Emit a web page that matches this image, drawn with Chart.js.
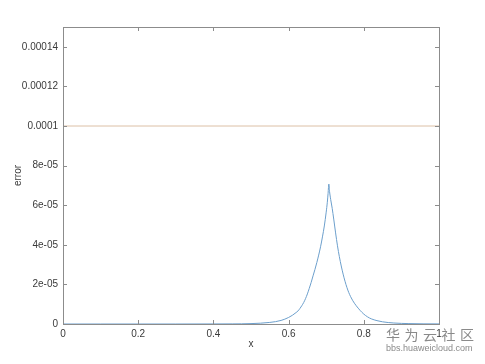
<!DOCTYPE html>
<html>
<head>
<meta charset="utf-8">
<script src="https://cdn.jsdelivr.net/npm/chart.js@4"></script>
<style>
  html, body { margin: 0; padding: 0; background: #fff; }
  #wrap { position: relative; width: 485px; height: 364px; }
  #mark { position: absolute; left: 386px; top: 326px; color: #8a8a8a; font-family: "Noto Sans CJK SC", sans-serif; }
  #mark .cn { font-size: 14px; letter-spacing: 4.5px; line-height: 17px; }
  #mark .url { font-size: 9px; line-height: 11px; font-family: "Liberation Sans", sans-serif; }
</style>
</head>
<body>
<div id="wrap">
  <canvas id="chart" width="485" height="364"></canvas>
  <div id="mark"><div class="cn">华为云社区</div><div class="url">bbs.huaweicloud.com</div></div>
</div>
<script>
// error curve
const xValues = [0, 0.1, 0.2, 0.3, 0.4, 0.45, 0.5, 0.55, 0.58, 0.6, 0.61, 0.62, 0.625, 0.63, 0.635, 0.64, 0.645, 0.65, 0.655, 0.66, 0.665,
  0.67, 0.675, 0.68, 0.685, 0.69, 0.695, 0.7, 0.703, 0.705, 0.707,
  0.709, 0.712, 0.716, 0.72, 0.725, 0.73, 0.735, 0.74, 0.745, 0.75, 0.755, 0.76, 0.765, 0.77, 0.775, 0.78, 0.79,
  0.8, 0.81, 0.82, 0.835, 0.85, 0.88, 0.92, 0.96, 1];
const errorValues = [0, 0, 0, 0, 0.00000003, 0.00000006, 0.0000002, 0.0000008, 0.0000018, 0.0000033, 0.0000044, 0.0000058, 0.0000066, 0.0000078, 0.0000092, 0.0000108, 0.0000128, 0.0000152, 0.000018, 0.000021, 0.0000243,
  0.0000275, 0.000031, 0.0000348, 0.000039, 0.000044, 0.0000495, 0.0000565, 0.0000615, 0.000066, 0.0000707,
  0.0000668, 0.0000628, 0.0000584, 0.000053, 0.000046, 0.0000395, 0.000034, 0.0000293, 0.0000252, 0.0000216, 0.0000185, 0.0000159, 0.0000138, 0.000012, 0.0000105, 0.0000092, 0.0000069,
  0.000005, 0.0000036, 0.0000026, 0.0000017, 0.0000011, 0.0000005, 0.0000002, 0.00000008, 0.00000005];
// tolerance line
const tolX = [0, 1];
const tolValues = [0.0001, 0.0001];

const xTickValues = [0, 0.2, 0.4, 0.6, 0.8, 1];
const xTickLabels = ['0', '0.2', '0.4', '0.6', '0.8', '1'];
const yTickValues = [0, 0.00002, 0.00004, 0.00006, 0.00008, 0.0001, 0.00012, 0.00014];
const yTickLabels = ['0', '2e-05', '4e-05', '6e-05', '8e-05', '0.0001', '0.00012', '0.00014'];

const axisColor = '#8c8c8c';
const textColor = '#3a3a3a';
const font = { family: 'Liberation Sans, Arial, sans-serif', size: 10 };

// box round the plot and gnuplot-like inside ticks
const boxPlugin = {
  id: 'box',
  afterDraw(chart) {
    const { ctx, chartArea: a, scales } = chart;
    ctx.save();
    ctx.strokeStyle = axisColor;
    ctx.lineWidth = 1;
    ctx.strokeRect(a.left + 0.5, a.top + 0.5, a.right - a.left, a.bottom - a.top);
    ctx.beginPath();
    for (const v of yTickValues) {
      const y = Math.round(scales.y.getPixelForValue(v)) + 0.5;
      ctx.moveTo(a.left, y); ctx.lineTo(a.left + 4, y);
      ctx.moveTo(a.right, y); ctx.lineTo(a.right - 4, y);
    }
    for (const v of xTickValues) {
      const x = Math.round(scales.x.getPixelForValue(v)) + 0.5;
      ctx.moveTo(x, a.bottom); ctx.lineTo(x, a.bottom - 4);
      ctx.moveTo(x, a.top); ctx.lineTo(x, a.top + 4);
    }
    ctx.stroke();
    ctx.restore();
  }
};

new Chart(document.getElementById('chart'), {
  type: 'scatter',
  data: {
    datasets: [
      {
        data: xValues.map((x, i) => ({ x, y: errorValues[i] })),
        showLine: true,
        borderColor: '#6c9fcc',
        borderWidth: 1,
        pointRadius: 0,
        cubicInterpolationMode: 'monotone'
      },
      {
        data: tolX.map((x, i) => ({ x, y: tolValues[i] })),
        showLine: true,
        borderColor: '#dcc0a6',
        borderWidth: 1,
        pointRadius: 0
      }
    ]
  },
  options: {
    responsive: false,
    animation: false,
    layout: { padding: { left: 0, top: 27, right: 46, bottom: 0 } },
    plugins: { legend: { display: false }, tooltip: { enabled: false } },
    scales: {
      x: {
        type: 'linear',
        min: 0,
        max: 1,
        afterBuildTicks: s => { s.ticks = xTickValues.map(v => ({ value: v })); },
        afterFit: s => { s.height = 40; },
        grid: { display: false, drawTicks: false },
        border: { display: false },
        ticks: {
          padding: 4,
          color: textColor,
          font,
          maxRotation: 0,
          callback: v => xTickLabels[xTickValues.indexOf(v)]
        },
        title: { display: true, text: 'x', color: textColor, font, padding: { top: 0, bottom: 14 } }
      },
      y: {
        type: 'linear',
        min: 0,
        max: 0.00015,
        afterBuildTicks: s => { s.ticks = yTickValues.map(v => ({ value: v })); },
        afterFit: s => { s.width = 63; },
        grid: { display: false, drawTicks: false },
        border: { display: false },
        ticks: {
          padding: 5,
          color: textColor,
          font,
          callback: v => yTickLabels[yTickValues.indexOf(v)]
        },
        title: { display: true, text: 'error', color: textColor, font, padding: { top: 12, bottom: 0 } }
      }
    }
  },
  plugins: [boxPlugin]
});
</script>
</body>
</html>
